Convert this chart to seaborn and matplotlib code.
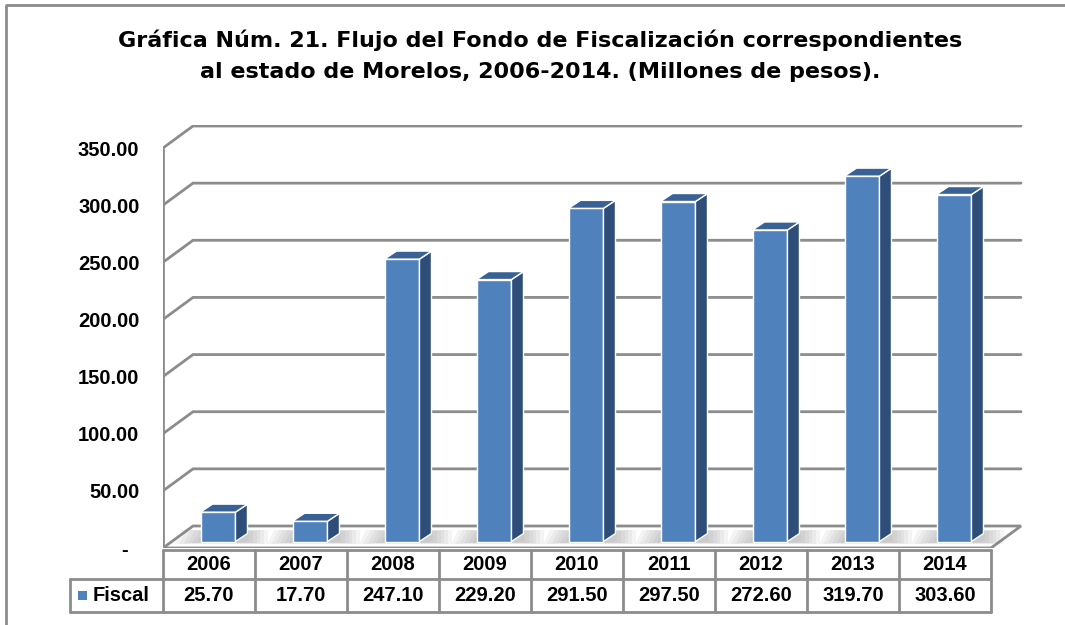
import seaborn as sns
import pandas as pd
import matplotlib.pyplot as plt
from matplotlib.patches import Polygon, Rectangle
from matplotlib.lines import Line2D

years = ['2006', '2007', '2008', '2009', '2010', '2011', '2012', '2013', '2014']
fiscal = [25.70, 17.70, 247.10, 229.20, 291.50, 297.50, 272.60, 319.70, 303.60]
yticks = [0, 50, 100, 150, 200, 250, 300, 350]
ylabels = ['-  ', '50.00', '100.00', '150.00', '200.00', '250.00', '300.00', '350.00']
series_name = 'Fiscal'
title = ('Gráfica Núm. 21. Flujo del Fondo de Fiscalización correspondientes\n'
         'al estado de Morelos, 2006-2014. (Millones de pesos).')

df = pd.DataFrame({'year': years, 'value': fiscal})

sns.set_style('white')
plt.rcParams['font.family'] = ['Liberation Sans', 'DejaVu Sans']
plt.rcParams['text.color'] = 'black'
plt.rcParams['ytick.color'] = 'black'

front = '#4F81BD'
side = '#2E4D78'
topc = '#3A6194'
grid = '#8C8C8C'
fs = 14.5

fig = plt.figure(figsize=(10.65, 6.25), dpi=100)
ax = fig.add_axes([163 / 1065, 1 - 548 / 625, 860 / 1065, 423 / 625])

# 3d projection: wall depth and bar depth (category units, value units)
uy = 400 / 350
DX, DY = 30 / 92, 22 / uy
bdx, bdy = 12 / 92, 8 / uy
fx, fy = 9 / 92, 6.5 / uy
ncat = len(years)

sns.barplot(data=df, x='year', y='value', color=front, width=0.38,
            saturation=1, edgecolor='white', linewidth=1, ax=ax, zorder=3)

x0, x1 = -0.5, ncat - 0.5
# floor
ax.add_patch(Polygon([(x0, 0), (x1, 0), (x1 + DX, DY), (x0 + DX, DY)],
                     closed=True, facecolor='white', edgecolor=grid, lw=2, zorder=1))
# walls / gridlines
for v in yticks[1:]:
    ax.plot([x0, x0 + DX, x1 + DX], [v, v + DY, v + DY], color=grid, lw=2, zorder=1,
            solid_joinstyle='miter')
ax.plot([x0, x0], [0, yticks[-1]], color=grid, lw=2, zorder=1)

for p in ax.patches[:ncat]:
    if not isinstance(p, Rectangle):
        continue
    p.set_x(p.get_x() + fx)
    h = p.get_height()
    p.set_y(fy)
    xa, xb = p.get_x(), p.get_x() + p.get_width()
    ya, yb = fy, fy + h
    ax.add_patch(Polygon([(xb, ya), (xb + bdx, ya + bdy), (xb + bdx, yb + bdy), (xb, yb)],
                         closed=True, facecolor=side, edgecolor='white', lw=1, zorder=3))
    ax.add_patch(Polygon([(xa, yb), (xb, yb), (xb + bdx, yb + bdy), (xa + bdx, yb + bdy)],
                         closed=True, facecolor=topc, edgecolor='white', lw=1, zorder=3))
    # soft shadow on floor
    for k in range(6):
        g = 0.04 * k
        ax.add_patch(Polygon([(xa - 0.28 + g * 1.2, ya - 2.5 / uy + g * 8),
                              (xb + bdx + 0.22 - g, ya - 2.5 / uy + g * 8),
                              (xb + bdx + 0.22 - g, ya + bdy + 4 / uy - g * 8),
                              (xa - 0.2 + g * 1.2, ya + bdy + 4 / uy - g * 8)],
                             closed=True, facecolor='#8A8A8A', edgecolor='none',
                             alpha=0.09, zorder=2))

ax.set_xlim(x0, x0 + 860 / 92)
ax.set_ylim(0, 423 / uy)
ax.set_yticks(yticks)
ax.set_yticklabels(ylabels, fontsize=fs, fontweight='bold')
ax.tick_params(axis='y', length=0, pad=17, labelcolor='black')
ax.set_xticks([])
ax.set_xlabel('')
ax.set_ylabel('')
for s in ax.spines.values():
    s.set_visible(False)

# data table below the plot
r0, r1, r2 = -2 / uy, -31 / uy, -64 / uy
lk = dict(color=grid, lw=2, clip_on=False, zorder=4)
ax.plot([x0, x1], [r0, r0], **lk)
ax.plot([x0 - 93 / 92, x1], [r1, r1], **lk)
ax.plot([x0 - 93 / 92, x1], [r2, r2], **lk)
ax.plot([x0 - 93 / 92, x0 - 93 / 92], [r1, r2], **lk)
for i in range(ncat + 1):
    ax.plot([x0 + i, x0 + i], [r0, r2], **lk)
for i, (y, v) in enumerate(zip(years, fiscal)):
    ax.text(i, (r0 + r1) / 2, y, ha='center', va='center', fontsize=fs,
            fontweight='bold', color='black', clip_on=False)
    ax.text(i, (r1 + r2) / 2, f'{v:.2f}', ha='center', va='center', fontsize=fs,
            fontweight='bold', color='black', clip_on=False)
ax.add_patch(Rectangle((x0 - 85 / 92, (r1 + r2) / 2 - 4.5 / uy), 9 / 92, 9 / uy,
                       facecolor=front, edgecolor='none', clip_on=False))
ax.text(x0 - 70 / 92, (r1 + r2) / 2, series_name, ha='left', va='center',
        fontsize=fs, fontweight='bold', color='black', clip_on=False)

fig.text(540 / 1065, 1 - 56 / 625, title, ha='center', va='center', color='black',
         fontsize=16, fontweight='bold', family=['DejaVu Sans'], linespacing=1.7)

fig.lines.append(Line2D([6 / 1065, 6 / 1065, 1.02], [-0.02, 1 - 5 / 625, 1 - 5 / 625],
                        transform=fig.transFigure, color=grid, lw=2))

fig.savefig('out.png', dpi=100)
